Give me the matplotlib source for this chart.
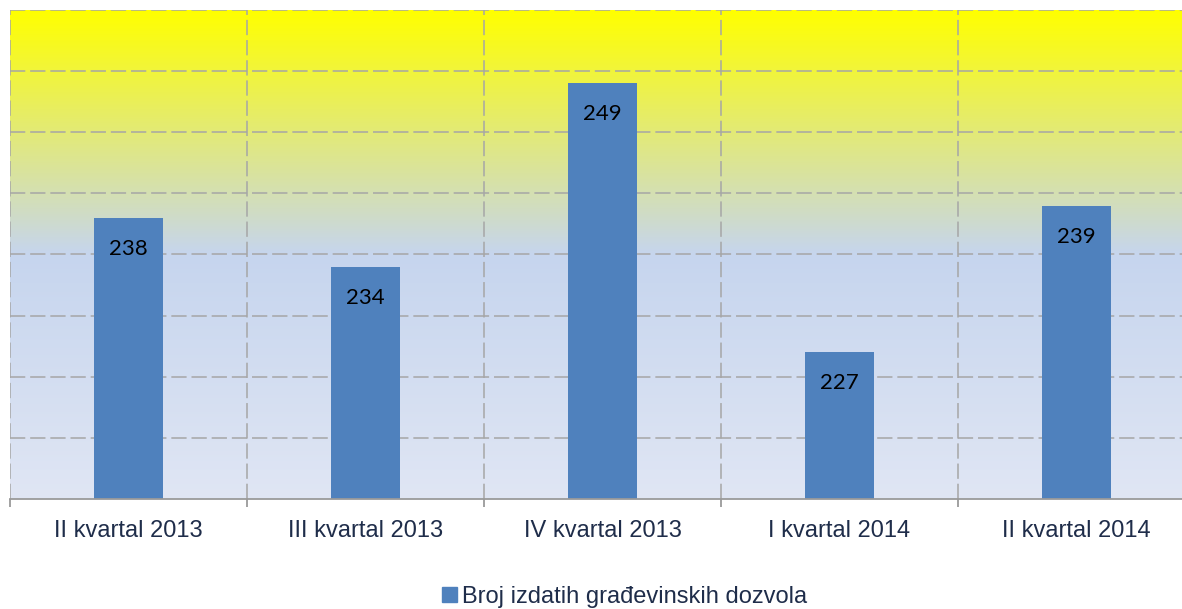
import numpy as np
import matplotlib
matplotlib.use("Agg")
import matplotlib.pyplot as plt
from matplotlib.colors import LinearSegmentedColormap
from matplotlib.patches import Patch

categories = ["II kvartal 2013", "III kvartal 2013", "IV kvartal 2013",
              "I kvartal 2014", "II kvartal 2014"]
values = [238, 234, 249, 227, 239]
series_name = "Broj izdatih građevinskih dozvola"

BAR = "#4F81BD"
GRID = "#A6A6A6"
TXT = "#1F2D4A"

W, H = 1182, 609
fig = plt.figure(figsize=(W / 100, H / 100), dpi=100, facecolor="white")
ax = fig.add_axes([10 / W, 110 / H, 1185 / W, 489 / H])

ymin, ymax = 215, 255
x = np.arange(len(categories))
ax.set_xlim(-0.5, len(categories) - 0.5)
ax.set_ylim(ymin, ymax)

# gradient background: yellow at top -> light blue in the middle -> paler blue at bottom
cmap = LinearSegmentedColormap.from_list(
    "bg", [(0.0, "#E0E6F4"), (0.5, "#C6D5EE"), (1.0, "#FFFF00")])
grad = np.linspace(0, 1, 256).reshape(-1, 1)
ax.imshow(grad, cmap=cmap, aspect="auto", origin="lower",
          extent=(-0.5, len(categories) - 0.5, ymin, ymax), zorder=0)

# dashed grid
dash = (0, (10, 3.2))
for yv in np.arange(ymin + 5, ymax + 1, 5):
    ax.axhline(yv, color=GRID, lw=1.1, linestyle=dash, zorder=1)
for xv in np.arange(-0.5, len(categories) + 0.5, 1):
    ax.axvline(xv, color=GRID, lw=1.1, linestyle=dash, zorder=1)

bars = ax.bar(x, values, width=0.287, color=BAR, zorder=2)
for b, v in zip(bars, values):
    ax.annotate(str(v), (b.get_x() + b.get_width() / 2, v),
                xytext=(0, -31), textcoords="offset pixels",
                ha="center", va="center", fontsize=16,
                family="Lato", color="black", zorder=3)

for s in ("top", "right", "left"):
    ax.spines[s].set_visible(False)
ax.spines["bottom"].set_color("#9A9A9A")
ax.spines["bottom"].set_linewidth(1.3)
ax.set_yticks([])
ax.set_xticks(x)
ax.set_xticklabels(categories, fontsize=17, color=TXT, family="Liberation Sans")
ax.tick_params(axis="x", which="major", length=0, pad=15)
ax.set_xticks(np.arange(-0.5, len(categories) + 0.5, 1), minor=True)
ax.tick_params(axis="x", which="minor", length=6, color="#9A9A9A", width=1.3)

leg = fig.legend(handles=[Patch(color=BAR, label=series_name)],
                 loc="center", bbox_to_anchor=(625 / W, 1 - 597 / H),
                 frameon=False, prop={"family": "Liberation Sans", "size": 17},
                 handlelength=0.6, handleheight=0.6, handletextpad=0.25)
for t in leg.get_texts():
    t.set_color(TXT)

fig.savefig("out.png", dpi=100, facecolor="white")
